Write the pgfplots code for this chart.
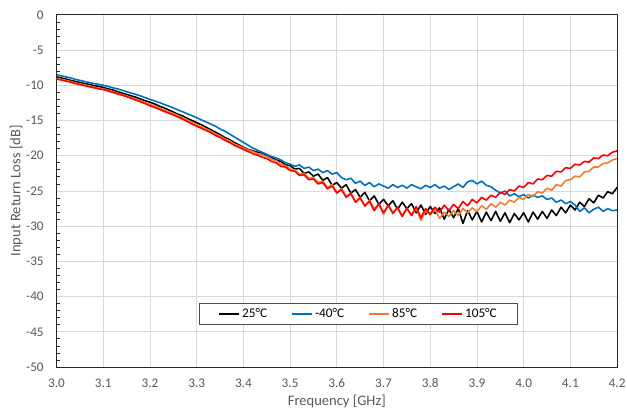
\documentclass[border=0pt]{standalone}
\usepackage{pgfplots}
\pgfplotsset{compat=1.18}
\usepackage{fontspec}
\setmainfont{Carlito}
\usetikzlibrary{calc}
\definecolor{cblue}{HTML}{0070C0}
\definecolor{corange}{HTML}{ED7D31}
\definecolor{cred}{HTML}{FF0000}
\definecolor{txtgray}{HTML}{595959}
\definecolor{gridgray}{HTML}{D9D9D9}

\pgfplotstableread{
f y
3.00 -8.8
3.01 -8.95
3.02 -9.1
3.03 -9.3
3.04 -9.45
3.05 -9.6
3.06 -9.75
3.07 -9.85
3.08 -10.05
3.09 -10.15
3.10 -10.3
3.11 -10.5
3.12 -10.65
3.13 -10.9
3.14 -11.1
3.15 -11.3
3.16 -11.5
3.17 -11.7
3.18 -11.95
3.19 -12.2
3.20 -12.4
3.21 -12.65
3.22 -12.95
3.23 -13.2
3.24 -13.5
3.25 -13.8
3.26 -14.1
3.27 -14.35
3.28 -14.7
3.29 -15.0
3.30 -15.3
3.31 -15.6
3.32 -15.95
3.33 -16.3
3.34 -16.65
3.35 -17.0
3.36 -17.4
3.37 -17.7
3.38 -18.1
3.39 -18.45
3.40 -18.8
3.41 -19.1
3.42 -19.3
3.43 -19.5
3.44 -19.6
3.45 -20.0
3.46 -20.2
3.47 -20.6
3.48 -20.8
3.49 -21.3
3.50 -21.4
3.51 -21.9
3.52 -21.8
3.53 -22.5
3.54 -22.3
3.55 -22.9
3.56 -22.6
3.57 -23.5
3.58 -23.1
3.59 -24.2
3.60 -23.8
3.61 -24.6
3.62 -24.1
3.63 -25.3
3.64 -24.8
3.65 -25.9
3.66 -25.2
3.67 -26.4
3.68 -25.7
3.69 -26.9
3.70 -26.2
3.71 -27.1
3.72 -26.4
3.73 -27.6
3.74 -26.6
3.75 -27.5
3.76 -26.8
3.77 -28.1
3.78 -27.0
3.79 -28.3
3.80 -27.2
3.81 -28.2
3.82 -27.4
3.83 -29.0
3.84 -27.6
3.85 -28.8
3.86 -27.5
3.87 -29.6
3.88 -27.8
3.89 -29.1
3.90 -27.9
3.91 -29.4
3.92 -28.0
3.93 -29.2
3.94 -27.9
3.95 -29.3
3.96 -28.1
3.97 -29.5
3.98 -28.2
3.99 -29.1
4.00 -28.1
4.01 -29.4
4.02 -28.0
4.03 -29.0
4.04 -27.9
4.05 -28.9
4.06 -27.7
4.07 -28.5
4.08 -27.3
4.09 -28.1
4.10 -27.0
4.11 -27.7
4.12 -26.6
4.13 -27.2
4.14 -26.1
4.15 -26.7
4.16 -25.6
4.17 -26.0
4.18 -25.1
4.19 -25.4
4.20 -24.5
}\tblack

\pgfplotstableread{
f y
3.00 -8.5
3.01 -8.65
3.02 -8.8
3.03 -8.95
3.04 -9.15
3.05 -9.3
3.06 -9.45
3.07 -9.6
3.08 -9.75
3.09 -9.85
3.10 -10.0
3.11 -10.15
3.12 -10.35
3.13 -10.5
3.14 -10.7
3.15 -10.9
3.16 -11.1
3.17 -11.3
3.18 -11.5
3.19 -11.75
3.20 -12.0
3.21 -12.2
3.22 -12.45
3.23 -12.7
3.24 -12.95
3.25 -13.2
3.26 -13.5
3.27 -13.75
3.28 -14.05
3.29 -14.3
3.30 -14.6
3.31 -14.9
3.32 -15.2
3.33 -15.5
3.34 -15.8
3.35 -16.2
3.36 -16.5
3.37 -16.9
3.38 -17.3
3.39 -17.7
3.40 -18.1
3.41 -18.5
3.42 -18.9
3.43 -19.2
3.44 -19.5
3.45 -19.8
3.46 -20.1
3.47 -20.3
3.48 -20.6
3.49 -21.0
3.50 -21.2
3.51 -21.5
3.52 -21.3
3.53 -21.8
3.54 -21.6
3.55 -22.1
3.56 -21.9
3.57 -22.4
3.58 -22.1
3.59 -22.6
3.60 -22.4
3.61 -23.1
3.62 -23.4
3.63 -23.2
3.64 -23.9
3.65 -23.6
3.66 -24.2
3.67 -23.8
3.68 -24.4
3.69 -24.0
3.70 -24.3
3.71 -24.6
3.72 -24.1
3.73 -24.5
3.74 -24.2
3.75 -24.6
3.76 -24.1
3.77 -24.4
3.78 -24.7
3.79 -24.2
3.80 -24.5
3.81 -24.1
3.82 -24.6
3.83 -24.3
3.84 -24.8
3.85 -24.4
3.86 -24.0
3.87 -24.5
3.88 -23.7
3.89 -23.5
3.90 -24.0
3.91 -23.6
3.92 -24.2
3.93 -24.4
3.94 -24.9
3.95 -25.3
3.96 -25.0
3.97 -25.7
3.98 -25.4
3.99 -25.8
4.00 -25.5
4.01 -26.0
4.02 -25.6
4.03 -25.9
4.04 -25.7
4.05 -26.2
4.06 -26.0
4.07 -26.6
4.08 -26.3
4.09 -26.8
4.10 -26.5
4.11 -27.0
4.12 -27.9
4.13 -27.4
4.14 -28.1
4.15 -27.6
4.16 -27.3
4.17 -27.9
4.18 -27.5
4.19 -27.8
4.20 -27.7
}\tblue

\pgfplotstableread{
f y
3.00 -9.0
3.01 -9.15
3.02 -9.3
3.03 -9.45
3.04 -9.65
3.05 -9.8
3.06 -9.95
3.07 -10.1
3.08 -10.25
3.09 -10.4
3.10 -10.5
3.11 -10.7
3.12 -10.9
3.13 -11.1
3.14 -11.3
3.15 -11.5
3.16 -11.75
3.17 -12.0
3.18 -12.2
3.19 -12.45
3.20 -12.7
3.21 -12.95
3.22 -13.2
3.23 -13.5
3.24 -13.75
3.25 -14.0
3.26 -14.3
3.27 -14.6
3.28 -14.95
3.29 -15.3
3.30 -15.6
3.31 -15.9
3.32 -16.2
3.33 -16.5
3.34 -16.9
3.35 -17.2
3.36 -17.6
3.37 -17.9
3.38 -18.3
3.39 -18.6
3.40 -18.9
3.41 -19.2
3.42 -19.4
3.43 -19.7
3.44 -19.9
3.45 -20.1
3.46 -20.5
3.47 -20.7
3.48 -21.2
3.49 -21.4
3.50 -21.9
3.51 -22.0
3.52 -22.6
3.53 -22.5
3.54 -23.2
3.55 -23.1
3.56 -23.8
3.57 -23.6
3.58 -24.5
3.59 -24.1
3.60 -25.2
3.61 -24.7
3.62 -25.8
3.63 -25.3
3.64 -26.5
3.65 -25.9
3.66 -27.2
3.67 -26.3
3.68 -27.5
3.69 -26.9
3.70 -28.3
3.71 -27.1
3.72 -28.0
3.73 -27.5
3.74 -28.6
3.75 -27.6
3.76 -28.4
3.77 -27.5
3.78 -29.2
3.79 -27.8
3.80 -28.4
3.81 -27.6
3.82 -28.9
3.83 -28.0
3.84 -28.6
3.85 -27.8
3.86 -28.5
3.87 -27.5
3.88 -28.1
3.89 -27.4
3.90 -27.9
3.91 -27.1
3.92 -27.6
3.93 -26.8
3.94 -27.3
3.95 -26.6
3.96 -27.0
3.97 -26.3
3.98 -26.6
3.99 -25.9
4.00 -26.2
4.01 -25.5
4.02 -25.8
4.03 -25.1
4.04 -25.3
4.05 -24.6
4.06 -24.9
4.07 -24.1
4.08 -24.3
4.09 -23.5
4.10 -23.4
4.11 -22.9
4.12 -23.0
4.13 -22.3
4.14 -22.2
4.15 -21.6
4.16 -21.6
4.17 -21.1
4.18 -21.0
4.19 -20.6
4.20 -20.4
}\torange

\pgfplotstableread{
f y
3.00 -9.1
3.01 -9.25
3.02 -9.4
3.03 -9.55
3.04 -9.75
3.05 -9.9
3.06 -10.05
3.07 -10.2
3.08 -10.35
3.09 -10.5
3.10 -10.6
3.11 -10.8
3.12 -11.0
3.13 -11.2
3.14 -11.4
3.15 -11.6
3.16 -11.85
3.17 -12.1
3.18 -12.35
3.19 -12.6
3.20 -12.9
3.21 -13.15
3.22 -13.4
3.23 -13.7
3.24 -13.95
3.25 -14.2
3.26 -14.5
3.27 -14.8
3.28 -15.15
3.29 -15.5
3.30 -15.8
3.31 -16.1
3.32 -16.4
3.33 -16.7
3.34 -17.1
3.35 -17.4
3.36 -17.8
3.37 -18.1
3.38 -18.5
3.39 -18.8
3.40 -19.1
3.41 -19.4
3.42 -19.7
3.43 -19.9
3.44 -20.2
3.45 -20.4
3.46 -20.8
3.47 -21.0
3.48 -21.5
3.49 -21.6
3.50 -22.1
3.51 -22.2
3.52 -22.8
3.53 -22.7
3.54 -23.4
3.55 -23.3
3.56 -24.0
3.57 -23.8
3.58 -24.7
3.59 -24.3
3.60 -25.3
3.61 -24.8
3.62 -25.9
3.63 -25.4
3.64 -26.6
3.65 -26.0
3.66 -27.1
3.67 -26.5
3.68 -27.8
3.69 -26.8
3.70 -28.1
3.71 -27.0
3.72 -28.2
3.73 -27.3
3.74 -28.6
3.75 -27.4
3.76 -28.5
3.77 -27.2
3.78 -28.8
3.79 -27.5
3.80 -28.3
3.81 -27.3
3.82 -28.0
3.83 -27.0
3.84 -27.8
3.85 -26.9
3.86 -27.5
3.87 -26.5
3.88 -27.1
3.89 -26.2
3.90 -26.7
3.91 -25.9
3.92 -26.3
3.93 -25.6
3.94 -25.9
3.95 -25.2
3.96 -25.5
3.97 -24.8
3.98 -25.0
3.99 -24.3
4.00 -24.5
4.01 -23.8
4.02 -24.0
4.03 -23.3
4.04 -23.4
4.05 -22.8
4.06 -22.9
4.07 -22.2
4.08 -22.3
4.09 -21.7
4.10 -21.8
4.11 -21.2
4.12 -21.3
4.13 -20.8
4.14 -20.9
4.15 -20.3
4.16 -20.4
4.17 -19.9
4.18 -20.0
4.19 -19.5
4.20 -19.3
}\tred

\begin{document}
\begin{tikzpicture}
\begin{axis}[
  scale only axis,
  width=423.75pt, height=266.25pt,
  xmin=3.0, xmax=4.2, ymin=-50, ymax=0,
  xtick={3.0,3.1,...,4.21},
  ytick={-50,-45,...,0},
  minor y tick num=4,
  major tick length=0pt,
  minor tick length=2.5pt,
  ytick pos=left, xtick pos=bottom,
  tick align=inside,
  grid=major,
  major grid style={gridgray, line width=0.6pt},
  axis line style={black!85, line width=0.8pt},
  minor tick style={black!85, line width=0.6pt},
  /pgf/number format/assume math mode=true,
  ticklabel style={font=\fontsize{10}{12}\selectfont, text=txtgray},
  xticklabel={\pgfmathprintnumber[fixed, fixed zerofill, precision=1]{\tick}},
  xticklabel style={yshift=-5.3pt},
  yticklabel style={xshift=-6.2pt},
  xlabel={Frequency [GHz]},
  ylabel={Input Return Loss [dB]},
  label style={font=\fontsize{11}{13}\selectfont, text=txtgray},
  xlabel style={at={(axis description cs:0.5,-0.0986)}, anchor=center},
  ylabel style={at={(axis description cs:-0.0717,0.5)}, anchor=center},
  legend columns=4,
  legend style={at={(0.539,0.151)}, anchor=center, draw=black!70, line width=0.8pt,
    fill=white, font=\fontsize{10}{12}\selectfont, inner xsep=14pt, inner ysep=2pt,
    /tikz/every even column/.append style={column sep=16pt}},
  legend image code/.code={\draw[#1, line width=1.3pt] (0pt,0pt) -- (15pt,0pt);},
  every axis plot/.append style={line width=1.2pt, line join=round},
]
\coordinate (ll) at (rel axis cs:0,0);
\coordinate (ur) at (rel axis cs:1,1);
\addplot[black, mark=none] table[x=f, y=y] {\tblack};
\addplot[cblue, mark=none] table[x=f, y=y] {\tblue};
\addplot[corange, mark=none] table[x=f, y=y] {\torange};
\addplot[cred, mark=none] table[x=f, y=y] {\tred};
\legend{25°C, -40°C, 85°C, 105°C}
\end{axis}
\pgfresetboundingbox
\path[use as bounding box] ($(ll)+(-42.75pt,-33.75pt)$) rectangle ($(ur)+(7.5pt,11.25pt)$);
\end{tikzpicture}
\end{document}
